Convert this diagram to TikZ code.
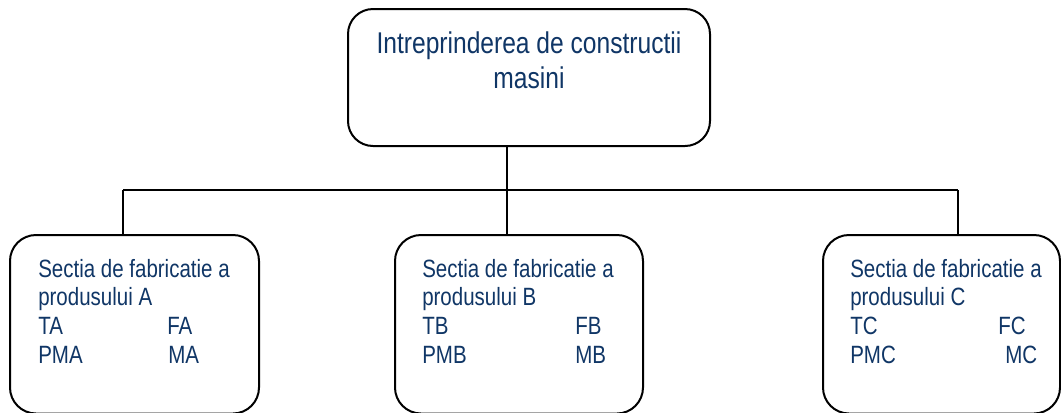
\documentclass[tikz,border=0pt]{standalone}
\usepackage{fontspec}
\setmainfont{Liberation Sans}[FakeStretch=0.82]
\definecolor{txtblue}{RGB}{16,54,102}
\begin{document}
\begin{tikzpicture}[x=0.75pt,y=-0.75pt,
  box/.style={draw=black,line width=1.5pt,inner sep=0pt},
  topbox/.style={box,rounded corners=18.75pt,minimum width=271.5pt,minimum height=102.75pt},
  secbox/.style={box,rounded corners=19.5pt,minimum height=133.875pt},
  conn/.style={draw=black,line width=1.5pt},
  bigtxt/.style={text=txtblue,font=\fontsize{22.5}{26}\selectfont,inner sep=0pt,anchor=base},
  smtxt/.style={text=txtblue,font=\fontsize{18.75}{21}\selectfont,inner sep=0pt,anchor=base west}]
\useasboundingbox (0,0) rectangle (1061,412);
\clip (0,0) rectangle (1061,412);
\fill[white] (0,0) rectangle (1061,412);
% boxes
\node[topbox] (top) at (529,77.5) {};
\node[secbox,minimum width=186.75pt] (A) at (134.5,324.25) {};
\node[secbox,minimum width=186pt] (B) at (519,324.25) {};
\node[secbox,minimum width=177.75pt] (C) at (941.5,324.25) {};
% connectors
\coordinate (hl) at (123,190);
\coordinate (hr) at (958,190);
\coordinate (mid) at (507,0);
\draw[conn] (hl) -- (hr);
\draw[conn] (hl) -- (hl |- A.north);
\draw[conn] (hr) -- (hr |- C.north);
\draw[conn] (mid |- top.south) -- (mid |- B.north);
% top texts
\node[bigtxt] (t1) at (529,53) {Intreprinderea de constructii};
\node[bigtxt] (t2) at (529,88) {masini};
% section A
\node[smtxt] (a1) at (38,277) {Sectia de fabricatie a};
\node[smtxt] (a2) at (38,305.5) {produsului A};
\node[smtxt] (a3) at (38,334) {TA};
\node[smtxt] (a4) at (167,334) {FA};
\node[smtxt] (a5) at (38,363) {PMA};
\node[smtxt] (a6) at (168,363) {MA};
% section B
\node[smtxt] (b1) at (422,277) {Sectia de fabricatie a};
\node[smtxt] (b2) at (422,305.5) {produsului B};
\node[smtxt] (b3) at (422,334) {TB};
\node[smtxt] (b4) at (575,334) {FB};
\node[smtxt] (b5) at (422,363) {PMB};
\node[smtxt] (b6) at (575,363) {MB};
% section C
\node[smtxt] (c1) at (850,277) {Sectia de fabricatie a};
\node[smtxt] (c2) at (850,305.5) {produsului C};
\node[smtxt] (c3) at (850,334) {TC};
\node[smtxt] (c4) at (998,334) {FC};
\node[smtxt] (c5) at (850,363) {PMC};
\node[smtxt] (c6) at (1005,363) {MC};
\end{tikzpicture}
\end{document}
